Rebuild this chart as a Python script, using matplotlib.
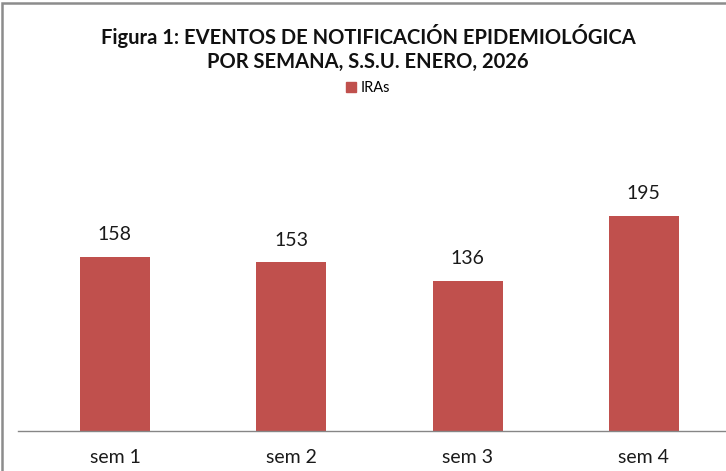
import matplotlib
matplotlib.use("Agg")
import matplotlib.pyplot as plt
from matplotlib.patches import Rectangle, Patch

# data
semanas = ["sem 1", "sem 2", "sem 3", "sem 4"]
iras = [158, 153, 136, 195]
titulo = "Figura 1: EVENTOS DE NOTIFICACIÓN EPIDEMIOLÓGICA\nPOR SEMANA, S.S.U. ENERO, 2026"
serie = "IRAs"

W, H = 726, 471
fig = plt.figure(figsize=(W / 100, H / 100), dpi=100)
plt.rcParams['font.family'] = ['Lato', 'DejaVu Sans']

# plot area in pixels (from top-left)
x0, x1 = 18, 726
ybase = 431
ytop = 431 - 250 * 1.102
ax = fig.add_axes([x0 / W, (H - ybase) / H, (x1 - x0) / W, (ybase - ytop) / H])

pos = list(range(len(semanas)))
ax.bar(pos, iras, width=0.397, color="#C0504D", edgecolor="none", zorder=2)
for p, v in zip(pos, iras):
    ax.annotate(str(v), (p, v), xytext=(0, 10), textcoords="offset points",
                ha="center", va="bottom", fontsize=14, color="#1a1a1a")

ax.set_xlim(-0.55, 3.466)
ax.set_ylim(0, 250)
ax.set_xticks(pos)
ax.set_xticklabels(semanas, fontsize=14, color="#1a1a1a")
ax.tick_params(axis="x", length=0, pad=13)
ax.set_yticks([])
for s in ["top", "right", "left"]:
    ax.spines[s].set_visible(False)
ax.spines["bottom"].set_color("#868686")
ax.spines["bottom"].set_linewidth(1)

fig.text(368 / W, 1 - 48 / H, titulo, ha="center", va="center",
         fontsize=14.5, fontweight="bold", linespacing=1.3, color="#111111")

fig.legend(handles=[Patch(color="#C0504D", label=serie)],
           loc="center", bbox_to_anchor=(368 / W, 1 - 88 / H),
           frameon=False, fontsize=10.5, handlelength=0.7, handleheight=0.7,
           handletextpad=0.3)

# chart border (cropped on right and bottom)
fig.patches.append(Rectangle((2 / W, -0.05), 1.1, 1 - 3 / H + 0.05,
                             transform=fig.transFigure, fill=False,
                             edgecolor="#8c8c8c", linewidth=1.8))

fig.savefig("out.png", dpi=100)
